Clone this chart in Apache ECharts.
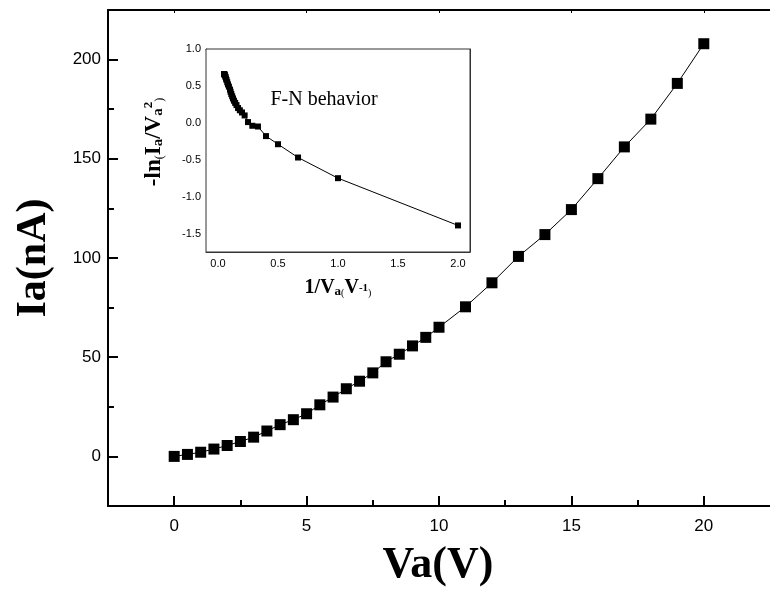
<!DOCTYPE html>
<html>
<head>
<meta charset="utf-8">
<script src="https://cdn.jsdelivr.net/npm/echarts@6/dist/echarts.min.js"></script>
<style>
  html, body { margin: 0; padding: 0; background: #fff; }
  #chart { width: 770px; height: 596px; }
</style>
</head>
<body>
<div id="chart"></div>
<script>
// main curve: anode voltage (V) vs anode current (nA)
var vaValues = [0, 0.5, 1, 1.5, 2, 2.5, 3, 3.5, 4, 4.5, 5, 5.5, 6, 6.5, 7, 7.5, 8, 8.5, 9, 9.5, 10,
  11, 12, 13, 14, 15, 16, 17, 18, 19, 20]
var iaValues = [0, 1.0, 2.1, 3.7, 5.5, 7.5, 9.7, 12.8, 16, 18.5, 21.5, 26, 29.9, 34.1, 37.9, 42.1, 47.7, 51.5, 55.7, 60, 65.1,
  75.4, 87.5, 100.8, 111.8, 124.4, 140, 156, 170, 188, 208]

// inset: F-N plot
var invVa = [2, 1, 0.667, 0.5, 0.4, 0.333, 0.286, 0.25, 0.222, 0.2, 0.182, 0.167, 0.154, 0.143, 0.133,
  0.125, 0.118, 0.111, 0.105, 0.1, 0.091, 0.083, 0.077, 0.071, 0.067, 0.063, 0.059, 0.056, 0.053, 0.05]
var fnValues = [-1.39, -0.75, -0.47, -0.29, -0.18, -0.05, -0.04, 0.01, 0.1, 0.14, 0.17, 0.2, 0.24, 0.27, 0.3,
  0.33, 0.36, 0.39, 0.42, 0.45, 0.49, 0.52, 0.55, 0.58, 0.6, 0.62, 0.64, 0.65, 0.66, 0.66]

// tick labels
var mainXTicks = [0, 5, 10, 15, 20]
var mainXMinor = [2.5, 7.5, 12.5, 17.5]
var mainYTicks = [0, 50, 100, 150, 200]
var mainYMinor = [25, 75, 125, 175]
var insetXTicks = [0, 0.5, 1, 1.5, 2]
var insetXMinor = [0.25, 0.75, 1.25, 1.75]
var insetYTicks = [-1.5, -1, -0.5, 0, 0.5, 1]
var insetYMinor = [-1.25, -0.75, -0.25, 0.25, 0.75]

var sans = '"Liberation Sans", Arial, sans-serif'
var serif = '"Liberation Serif", "Times New Roman", serif'

var myChart = echarts.init(document.getElementById('chart'))

function mainLine() {
  return { onZero: false, lineStyle: { color: '#000', width: 2 } }
}
function insetLine() {
  return { onZero: false, lineStyle: { color: '#333', width: 1 } }
}
function oneDec(v) {
  return v.toFixed(1)
}

var option = {
  animation: false,
  backgroundColor: '#fff',
  grid: [
    { left: 108, top: 10, right: -6, bottom: 90 },
    { left: 206, top: 49, right: 300, bottom: 344, show: true, backgroundColor: '#fff', borderColor: '#333', borderWidth: 1, z: 5 }
  ],
  xAxis: [
    {
      gridIndex: 0, type: 'value', position: 'bottom', min: -2.5, max: 22.5,
      axisLine: mainLine(),
      axisTick: { inside: true, length: 10, customValues: mainXTicks, lineStyle: { color: '#000', width: 2 } },
      axisLabel: { customValues: mainXTicks, fontFamily: sans, fontSize: 17, color: '#000', margin: 12 },
      splitLine: { show: false }
    },
    {
      gridIndex: 0, type: 'value', position: 'bottom', min: -2.5, max: 22.5,
      axisLine: { show: false, onZero: false },
      axisTick: { inside: true, length: 6, customValues: mainXMinor, lineStyle: { color: '#000', width: 2 } },
      axisLabel: { show: false },
      splitLine: { show: false }
    },
    {
      gridIndex: 0, type: 'value', position: 'top', min: -2.5, max: 22.5,
      axisLine: mainLine(),
      axisTick: { inside: true, length: 3, customValues: mainXTicks, lineStyle: { color: '#000', width: 1 } },
      axisLabel: { show: false },
      splitLine: { show: false }
    },
    {
      gridIndex: 1, type: 'value', position: 'bottom', min: -0.1, max: 2.1,
      axisLine: insetLine(),
      axisTick: { inside: true, length: 4, customValues: insetXTicks, lineStyle: { color: '#333' } },
      axisLabel: { customValues: insetXTicks, formatter: oneDec, fontFamily: sans, fontSize: 11, color: '#000', margin: 6 },
      splitLine: { show: false }
    },
    {
      gridIndex: 1, type: 'value', position: 'bottom', min: -0.1, max: 2.1,
      axisLine: { show: false, onZero: false },
      axisTick: { inside: true, length: 2.5, customValues: insetXMinor, lineStyle: { color: '#333' } },
      axisLabel: { show: false },
      splitLine: { show: false }
    },
    {
      gridIndex: 1, type: 'value', position: 'top', min: -0.1, max: 2.1,
      axisLine: insetLine(),
      axisTick: { inside: true, length: 3, customValues: insetXTicks.concat(insetXMinor), lineStyle: { color: '#333' } },
      axisLabel: { show: false },
      splitLine: { show: false }
    }
  ],
  yAxis: [
    {
      gridIndex: 0, type: 'value', position: 'left', min: -25, max: 225,
      axisLine: mainLine(),
      axisTick: { inside: true, length: 10, customValues: mainYTicks, lineStyle: { color: '#000', width: 2 } },
      axisLabel: { customValues: mainYTicks, fontFamily: sans, fontSize: 17, color: '#000', margin: 7 },
      splitLine: { show: false }
    },
    {
      gridIndex: 0, type: 'value', position: 'left', min: -25, max: 225,
      axisLine: { show: false, onZero: false },
      axisTick: { inside: true, length: 6, customValues: mainYMinor, lineStyle: { color: '#000', width: 2 } },
      axisLabel: { show: false },
      splitLine: { show: false }
    },
    {
      gridIndex: 1, type: 'value', position: 'left', min: -1.75, max: 1.0,
      axisLine: insetLine(),
      axisTick: { inside: true, length: 4, customValues: insetYTicks, lineStyle: { color: '#333' } },
      axisLabel: { customValues: insetYTicks, formatter: oneDec, fontFamily: sans, fontSize: 11, color: '#000', margin: 5 },
      splitLine: { show: false }
    },
    {
      gridIndex: 1, type: 'value', position: 'left', min: -1.75, max: 1.0,
      axisLine: { show: false, onZero: false },
      axisTick: { inside: true, length: 2.5, customValues: insetYMinor, lineStyle: { color: '#333' } },
      axisLabel: { show: false },
      splitLine: { show: false }
    },
    {
      gridIndex: 1, type: 'value', position: 'right', min: -1.75, max: 1.0,
      axisLine: insetLine(),
      axisTick: { inside: true, length: 3, customValues: insetYTicks.concat(insetYMinor), lineStyle: { color: '#333' } },
      axisLabel: { show: false },
      splitLine: { show: false }
    }
  ],
  series: [
    {
      type: 'line',
      xAxisIndex: 0, yAxisIndex: 0,
      data: vaValues.map(function (v, i) { return [v, iaValues[i]] }),
      symbol: 'rect', symbolSize: 11,
      itemStyle: { color: '#000' },
      lineStyle: { color: '#000', width: 1 },
      z: 2
    },
    {
      type: 'line',
      xAxisIndex: 3, yAxisIndex: 2,
      data: invVa.map(function (v, i) { return [v, fnValues[i]] }),
      symbol: 'rect', symbolSize: 6,
      itemStyle: { color: '#000' },
      lineStyle: { color: '#000', width: 1 },
      z: 6
    }
  ],
  graphic: [
    {
      type: 'text', x: 34, y: 258, rotation: Math.PI / 2, z: 10,
      style: { text: 'Ia(nA)', font: 'bold 42px ' + serif, fill: '#000', align: 'center', verticalAlign: 'middle' }
    },
    {
      type: 'text', x: 438, y: 566, z: 10,
      style: { text: 'Va(V)', font: 'bold 44px ' + serif, fill: '#000', align: 'center', verticalAlign: 'middle' }
    },
    {
      type: 'text', x: 324, y: 100, z: 10,
      style: { text: 'F-N behavior', font: '20px ' + serif, fill: '#000', align: 'center', verticalAlign: 'middle' }
    },
    {
      type: 'text', x: 154, y: 142, rotation: Math.PI / 2, z: 10,
      style: {
        text: '{b|-ln}{s|(}{b|I}{m|a}{b|/V}{m|a}{sup|2}{s|)}',
        align: 'center', verticalAlign: 'middle',
        rich: {
          b: { font: 'bold 23px ' + serif, fill: '#000', verticalAlign: 'bottom', lineHeight: 24 },
          m: { font: 'bold 15px ' + serif, fill: '#000', verticalAlign: 'bottom', lineHeight: 24 },
          s: { font: '12px ' + serif, fill: '#000', verticalAlign: 'bottom', lineHeight: 22 },
          sup: { font: 'bold 13px ' + serif, fill: '#000', verticalAlign: 'top', lineHeight: 16 }
        }
      }
    },
    {
      type: 'text', x: 338, y: 288, z: 10,
      style: {
        text: '{b|1/V}{m|a}{s|(}{b|V}{sup|-1}{s|)}',
        align: 'center', verticalAlign: 'middle',
        rich: {
          b: { font: 'bold 20px ' + serif, fill: '#000', verticalAlign: 'bottom', lineHeight: 20 },
          m: { font: 'bold 13px ' + serif, fill: '#000', verticalAlign: 'bottom', lineHeight: 20 },
          s: { font: '10px ' + serif, fill: '#000', verticalAlign: 'bottom', lineHeight: 18 },
          sup: { font: 'bold 11px ' + serif, fill: '#000', verticalAlign: 'middle', lineHeight: 20 }
        }
      }
    }
  ]
}

myChart.setOption(option)
</script>
</body>
</html>
